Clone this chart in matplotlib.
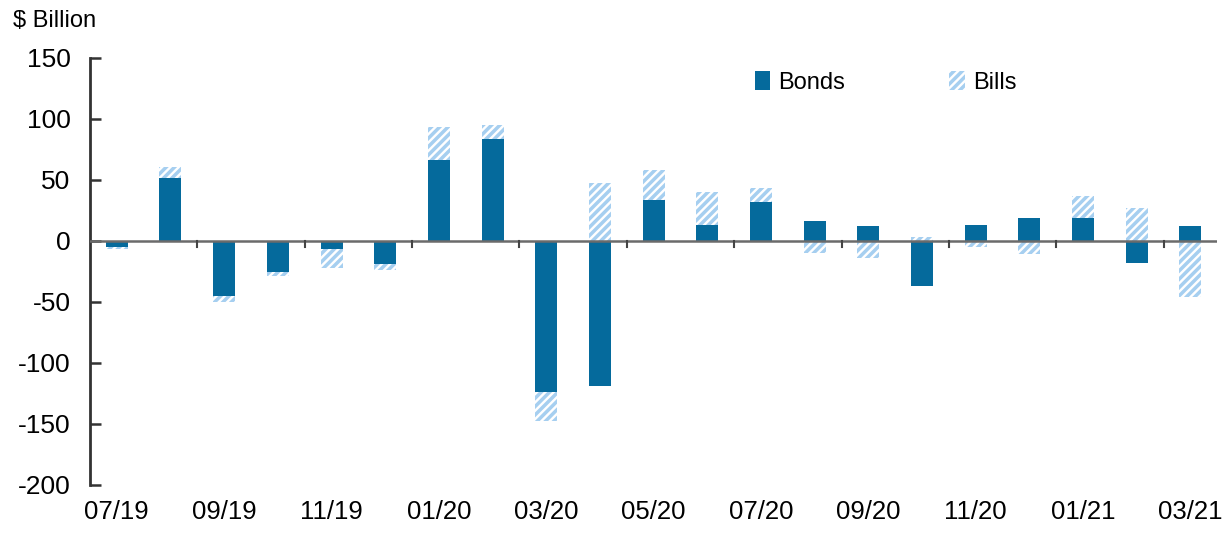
import numpy as np
import matplotlib.pyplot as plt

plt.rcParams['font.family'] = ['Liberation Sans', 'DejaVu Sans']
plt.rcParams['hatch.linewidth'] = 2.5
plt.rcParams['axes.unicode_minus'] = False

months = ['07/19', '08/19', '09/19', '10/19', '11/19', '12/19',
          '01/20', '02/20', '03/20', '04/20', '05/20', '06/20',
          '07/20', '08/20', '09/20', '10/20', '11/20', '12/20',
          '01/21', '02/21', '03/21']
bonds = [-5, 51, -45, -26, -7, -19, 66, 83, -124, -119, 33, 13,
         32, 16, 12, -37, 13, 19, 19, -18, 12]
bills = [-2, 9, -5, -3, -15, -5, 27, 12, -24, 47, 25, 27,
         11, -10, -14, 3, -5, -11, 18, 27, -46]

bond_col = '#056a9c'
bill_col = '#a6cff0'

bonds = np.array(bonds)
bills = np.array(bills)
x = np.arange(len(months))
# bills sit on top of bonds when both have the same sign
bill_bottom = np.where(np.sign(bills) == np.sign(bonds), bonds, 0)

fig = plt.figure(figsize=(12.24, 5.48), dpi=100)
ax = fig.add_axes([0.0735, 0.115, 0.921, 0.78])

w = 0.41
ax.bar(x, bonds, w, color=bond_col, label='Bonds', zorder=2)
ax.bar(x, bills, w, bottom=bill_bottom, color='white', edgecolor=bill_col,
       hatch='////', linewidth=0, label='Bills', zorder=2)
ax.axhline(0, color='#6b6b6b', lw=1.8, zorder=3)

ax.set_xlim(-0.5, len(months) - 0.5)
ax.set_ylim(-200, 150)
ax.set_yticks(range(-200, 151, 50))

# category labels every other month, tick marks between pairs
ax.set_xticks(x[::2])
ax.set_xticklabels(months[::2])
ax.tick_params(axis='x', length=0, labelsize=18.5, pad=11)
tick_pos = np.arange(1.5, len(months) - 1, 2)
for t in tick_pos:
    ax.plot([t, t], [0, -5], color='#444444', lw=1.5, zorder=3)

ax.tick_params(axis='y', direction='in', length=8, width=1.8,
               labelsize=19, color='#333333', pad=14)
for s in ['top', 'right', 'bottom']:
    ax.spines[s].set_visible(False)
ax.spines['left'].set_linewidth(2)
ax.spines['left'].set_color('#333333')

fig.text(0.011, 0.962, '$ Billion', fontsize=17, va='center', ha='left')

ax.legend(loc='upper left', bbox_to_anchor=(0.571, 1.018), ncol=2, frameon=False,
          fontsize=17, handlelength=0.65, handleheight=0.85, handletextpad=0.35,
          columnspacing=4.4)

plt.savefig('out.png', dpi=100)
